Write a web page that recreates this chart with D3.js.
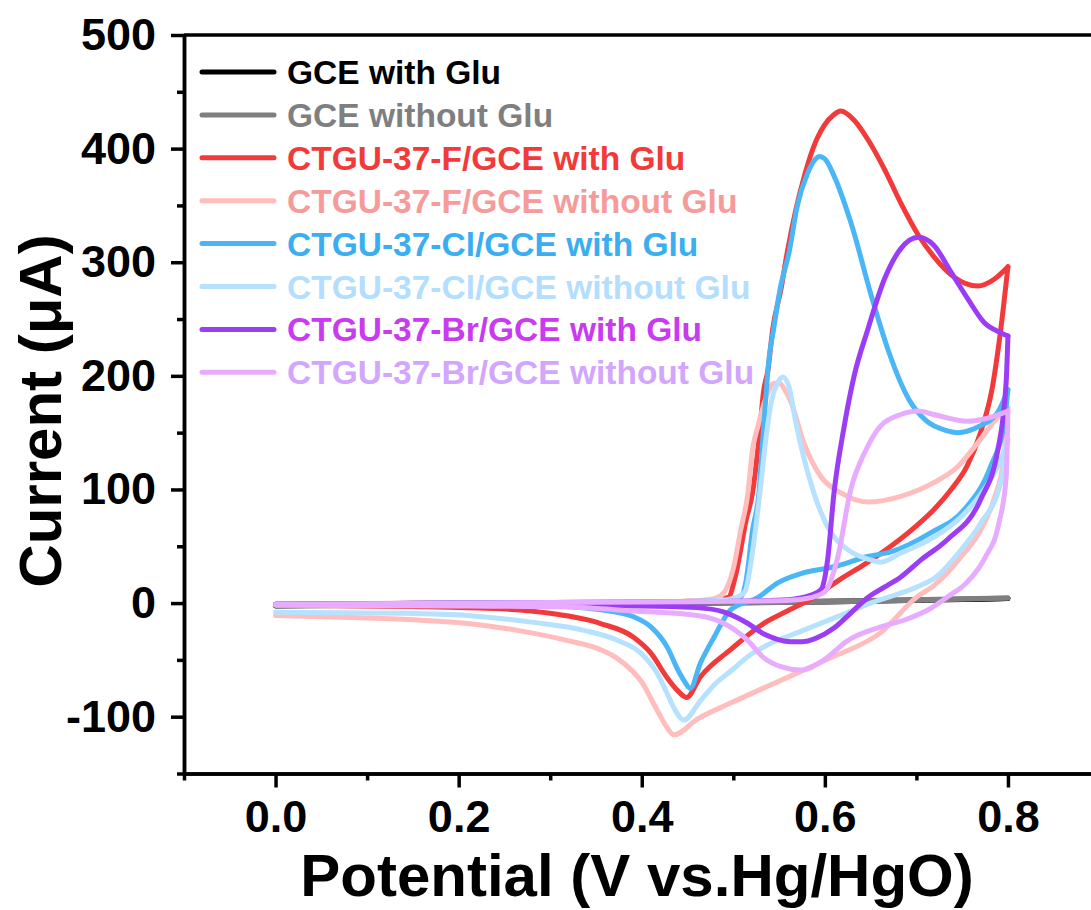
<!DOCTYPE html>
<html>
<head>
<meta charset="utf-8">
<script src="https://cdn.jsdelivr.net/npm/d3@7"></script>
<style>
  body { margin: 0; background: #ffffff; }
  text { font-family: "Liberation Sans", Arial, sans-serif; font-weight: bold; }
</style>
</head>
<body>
<svg id="chart" width="1091" height="910"></svg>
<script>
// ---------------- DATA (potential V, current µA), sweep order ----------------
const seriesNames = [
  "GCE with Glu",
  "GCE without Glu",
  "CTGU-37-F/GCE with Glu",
  "CTGU-37-F/GCE without Glu",
  "CTGU-37-Cl/GCE with Glu",
  "CTGU-37-Cl/GCE without Glu",
  "CTGU-37-Br/GCE with Glu",
  "CTGU-37-Br/GCE without Glu"
];
const lineColors = ["#000000", "#7f7f7f", "#f23a3a", "#ffbdbd", "#4ab6f6", "#b6e1ff", "#9b3cf7", "#e7acff"];
const textColors = ["#000000", "#7f7f7f", "#f23a3a", "#f69a9a", "#3aaef0", "#b3defe", "#c93bef", "#d3a6fd"];

const gceWith = [[0,-2],[0.2,-1],[0.4,0],[0.6,1.5],[0.8,4],[0.6,1],[0.4,-0.5],[0.2,-1.5],[0,-2.5]];
const gceWithout = [[0,-1.5],[0.2,-1],[0.4,0],[0.5,0.5],[0.6,1.5],[0.7,3],[0.8,4.5],[0.7,2.5],[0.6,1],[0.5,0],[0.4,-0.5],[0.2,-1.5],[0,-2]];

const fWith = [[0,-1],[0.1,-0.5],[0.2,0],[0.3,0.5],[0.4,1],[0.45,1.5],[0.48,3],[0.4945,5],[0.503,26],[0.514,73],[0.521,97],[0.528,144],[0.533,186],[0.538,206],[0.543,241],[0.552,276],[0.559,309],[0.568,345],[0.577,374],[0.587,400],[0.599,420],[0.61,430],[0.617,433],[0.632,425],[0.647,408],[0.665,382],[0.683,352],[0.702,324],[0.719,305],[0.741,287],[0.767,279],[0.785,285],[0.8,296],
  [0.792,240],[0.783,190],[0.77,150],[0.755,120],[0.738,100],[0.72,83],[0.70,68],[0.672,50],[0.645,35],[0.617,21],[0.588,5],[0.559,-7],[0.533,-18],[0.497,-41],[0.464,-65],[0.449,-83],[0.438,-76],[0.428,-66],[0.41,-44],[0.391,-30],[0.355,-18],[0.3,-9],[0.246,-5],[0.15,-3],[0,-2]];

const fWithout = [[0,-1.5],[0.2,-0.5],[0.4,0.5],[0.46,2],[0.48,4],[0.4896,9],[0.5005,32],[0.508,64],[0.516,97],[0.521,135],[0.527,156],[0.5377,185],[0.543,193],[0.55,194],[0.556,188],[0.563,177],[0.577,141],[0.596,111],[0.6175,97],[0.647,89],[0.683,94],[0.719,106],[0.745,120],[0.767,141],[0.785,160],[0.8,172],
  [0.795,125],[0.785,92],[0.77,64],[0.75,42],[0.72,16],[0.70,5],[0.661,-26],[0.607,-48],[0.552,-68],[0.497,-88],[0.461,-102],[0.435,-116],[0.428,-110],[0.42,-99],[0.41,-84],[0.402,-72],[0.39,-60],[0.372,-48],[0.355,-41],[0.319,-33],[0.264,-24],[0.21,-18],[0.155,-15],[0.093,-13],[0,-11]];

const clWith = [[0,-1],[0.2,0],[0.4,1],[0.48,2],[0.5,3],[0.508,5],[0.514,20],[0.521,64],[0.528,97],[0.533,153],[0.539,215],[0.544,241],[0.551,276],[0.561,309],[0.57,350],[0.581,378],[0.589,390],[0.594,393],[0.6,391],[0.61,376],[0.628,336],[0.652,267],[0.669,223],[0.692,179],[0.71,161],[0.732,152],[0.745,150],[0.767,155],[0.789,168],[0.8,188],
  [0.796,159],[0.781,120],[0.752,82],[0.716,62],[0.672,45],[0.647,41],[0.61,32],[0.574,26],[0.549,18],[0.527,5],[0.497,-6],[0.479,-30],[0.464,-53],[0.453,-75],[0.446,-68],[0.439,-58],[0.428,-39],[0.41,-21],[0.391,-12],[0.355,-6],[0.282,-2],[0.15,-1],[0,-1]];

const clWithout = [[0,-1.5],[0.2,-0.5],[0.4,0.5],[0.48,2],[0.5,4],[0.5126,10],[0.5213,47],[0.529,97],[0.5355,144],[0.542,179],[0.5486,194],[0.554,199],[0.561,190],[0.568,160],[0.577,128],[0.588,97],[0.603,67],[0.625,47],[0.65,38],[0.661,36],[0.683,44],[0.719,58],[0.749,76],[0.774,100],[0.792,126],[0.8,144],
  [0.792,106],[0.77,70],[0.75,48],[0.72,22],[0.70,14],[0.68,8],[0.65,0],[0.62,-10],[0.57,-26],[0.537,-37],[0.516,-47],[0.5,-58],[0.479,-72],[0.464,-86],[0.446,-103],[0.435,-92],[0.428,-80],[0.417,-62],[0.399,-44],[0.374,-33],[0.337,-24],[0.282,-17],[0.21,-11],[0.137,-9],[0,-8]];

const brWith = [[0,-1],[0.2,0],[0.4,0.5],[0.5,1.5],[0.56,3],[0.585,7],[0.596,12],[0.603,38],[0.61,97],[0.621,155],[0.632,200],[0.647,241],[0.665,285],[0.683,312],[0.702,322],[0.719,315],[0.738,291],[0.756,268],[0.774,247],[0.792,238],[0.8,235],
  [0.798,194],[0.789,135],[0.77,91],[0.734,56],[0.705,38],[0.683,23],[0.665,14],[0.647,5],[0.628,-9],[0.61,-22],[0.59,-31],[0.575,-34],[0.563,-34],[0.545,-31],[0.533,-27],[0.516,-18],[0.49,-8],[0.46,-4],[0.4,-2.5],[0.2,-2],[0,-1.5]];

const brWithout = [[0,-1],[0.2,0],[0.4,1],[0.55,2],[0.58,4],[0.6,10],[0.614,40],[0.628,99],[0.645,135],[0.661,156],[0.683,166],[0.702,169],[0.719,166],[0.756,160],[0.774,162],[0.8,169],
  [0.798,110],[0.79,70],[0.775,40],[0.755,18],[0.735,6],[0.715,-5],[0.69,-14],[0.661,-21],[0.625,-33],[0.599,-50],[0.574,-59],[0.552,-56],[0.533,-48],[0.516,-33],[0.49,-18],[0.461,-11],[0.391,-7],[0.319,-3.5],[0.2,-2.5],[0,-2]];

const seriesData = [gceWith, gceWithout, fWith, fWithout, clWith, clWithout, brWith, brWithout];

const xTicks = [0, 0.2, 0.4, 0.6, 0.8];
const xTickLabels = ["0.0", "0.2", "0.4", "0.6", "0.8"];
const xMinorTicks = [-0.1, 0.1, 0.3, 0.5, 0.7, 0.9];
const yTicks = [-100, 0, 100, 200, 300, 400, 500];
const yTickLabels = ["-100", "0", "100", "200", "300", "400", "500"];
const yMinorTicks = [-150, -50, 50, 150, 250, 350, 450];
const xTitle = "Potential (V vs.Hg/HgO)";
const yTitle = "Current (\u03bcA)";

// ---------------- LAYOUT ----------------
const svg = d3.select("#chart");
svg.append("rect").attr("width", 1091).attr("height", 910).attr("fill", "#fff");

const x = d3.scaleLinear().domain([-0.1, 0.9]).range([184, 1099.5]);
const y = d3.scaleLinear().domain([-150, 500]).range([773.5, 35]);

const defs = svg.append("defs");
defs.append("clipPath").attr("id", "plotclip")
  .append("rect").attr("x", 184).attr("y", 35).attr("width", 916).attr("height", 739);

const plot = svg.append("g").attr("clip-path", "url(#plotclip)");
const line = d3.line().x(d => x(d[0])).y(d => y(d[1])).curve(d3.curveMonotoneX);

seriesData.forEach((data, i) => {
  let k = 0;
  data.forEach((d, j) => { if (d[0] > data[k][0]) k = j; });
  const fwd = data.slice(0, k + 1).slice().sort((a, b) => a[0] - b[0]);
  const bwd = data.slice(k).slice().sort((a, b) => a[0] - b[0]);
  [fwd, bwd].forEach(seg => {
    plot.append("path").datum(seg)
      .attr("d", line)
      .attr("fill", "none")
      .attr("stroke", lineColors[i])
      .attr("stroke-width", 5)
      .attr("stroke-linecap", "round")
      .attr("stroke-linejoin", "round");
  });
});

// frame
svg.append("line").attr("x1", x(-0.1)).attr("x2", 1091).attr("y1", y(500)).attr("y2", y(500))
  .attr("stroke", "#000").attr("stroke-width", 3.5);
svg.append("line").attr("x1", x(0.9)).attr("x2", x(0.9)).attr("y1", y(500)).attr("y2", y(-150))
  .attr("stroke", "#000").attr("stroke-width", 3.5);

// axes
function styleAxis(g) {
  g.select(".domain").attr("stroke", "#000").attr("stroke-width", 3.5);
  g.selectAll(".tick line").attr("stroke", "#000").attr("stroke-width", 3.5);
  g.selectAll(".tick text").attr("fill", "#000").style("font-size", "45px")
    .style("font-family", "'Liberation Sans', Arial, sans-serif").style("font-weight", "bold");
}

const xAxisMinor = svg.append("g").attr("transform", `translate(0,${y(-150)})`)
  .call(d3.axisBottom(x).tickValues(xMinorTicks).tickFormat("").tickSize(7).tickSizeOuter(0));
styleAxis(xAxisMinor);
const xAxis = svg.append("g").attr("transform", `translate(0,${y(-150)})`)
  .call(d3.axisBottom(x).tickValues(xTicks).tickFormat((d, i) => xTickLabels[i]).tickSize(14).tickPadding(13).tickSizeOuter(0));
styleAxis(xAxis);

const yAxisMinor = svg.append("g").attr("transform", `translate(${x(-0.1)},0)`)
  .call(d3.axisLeft(y).tickValues(yMinorTicks).tickFormat("").tickSize(7).tickSizeOuter(0));
styleAxis(yAxisMinor);
const yAxis = svg.append("g").attr("transform", `translate(${x(-0.1)},0)`)
  .call(d3.axisLeft(y).tickValues(yTicks).tickFormat((d, i) => yTickLabels[i]).tickSize(13).tickPadding(15).tickSizeOuter(0));
styleAxis(yAxis);

// axis titles
svg.append("text").attr("x", 637).attr("y", 896).attr("text-anchor", "middle")
  .style("font-size", "60px").attr("fill", "#000").text(xTitle);
svg.append("text").attr("transform", "translate(61,411) rotate(-90)").attr("text-anchor", "middle")
  .style("font-size", "60px").attr("fill", "#000").text(yTitle);

// legend
const legend = svg.append("g");
seriesNames.forEach((name, i) => {
  const ly = 72 + i * 42.9;
  legend.append("line").attr("x1", 202).attr("x2", 274).attr("y1", ly).attr("y2", ly)
    .attr("stroke", lineColors[i]).attr("stroke-width", 5).attr("stroke-linecap", "round");
  legend.append("text").attr("x", 287).attr("y", ly + 12)
    .style("font-size", "33.5px").attr("fill", textColors[i]).text(name);
});
</script>
</body>
</html>
